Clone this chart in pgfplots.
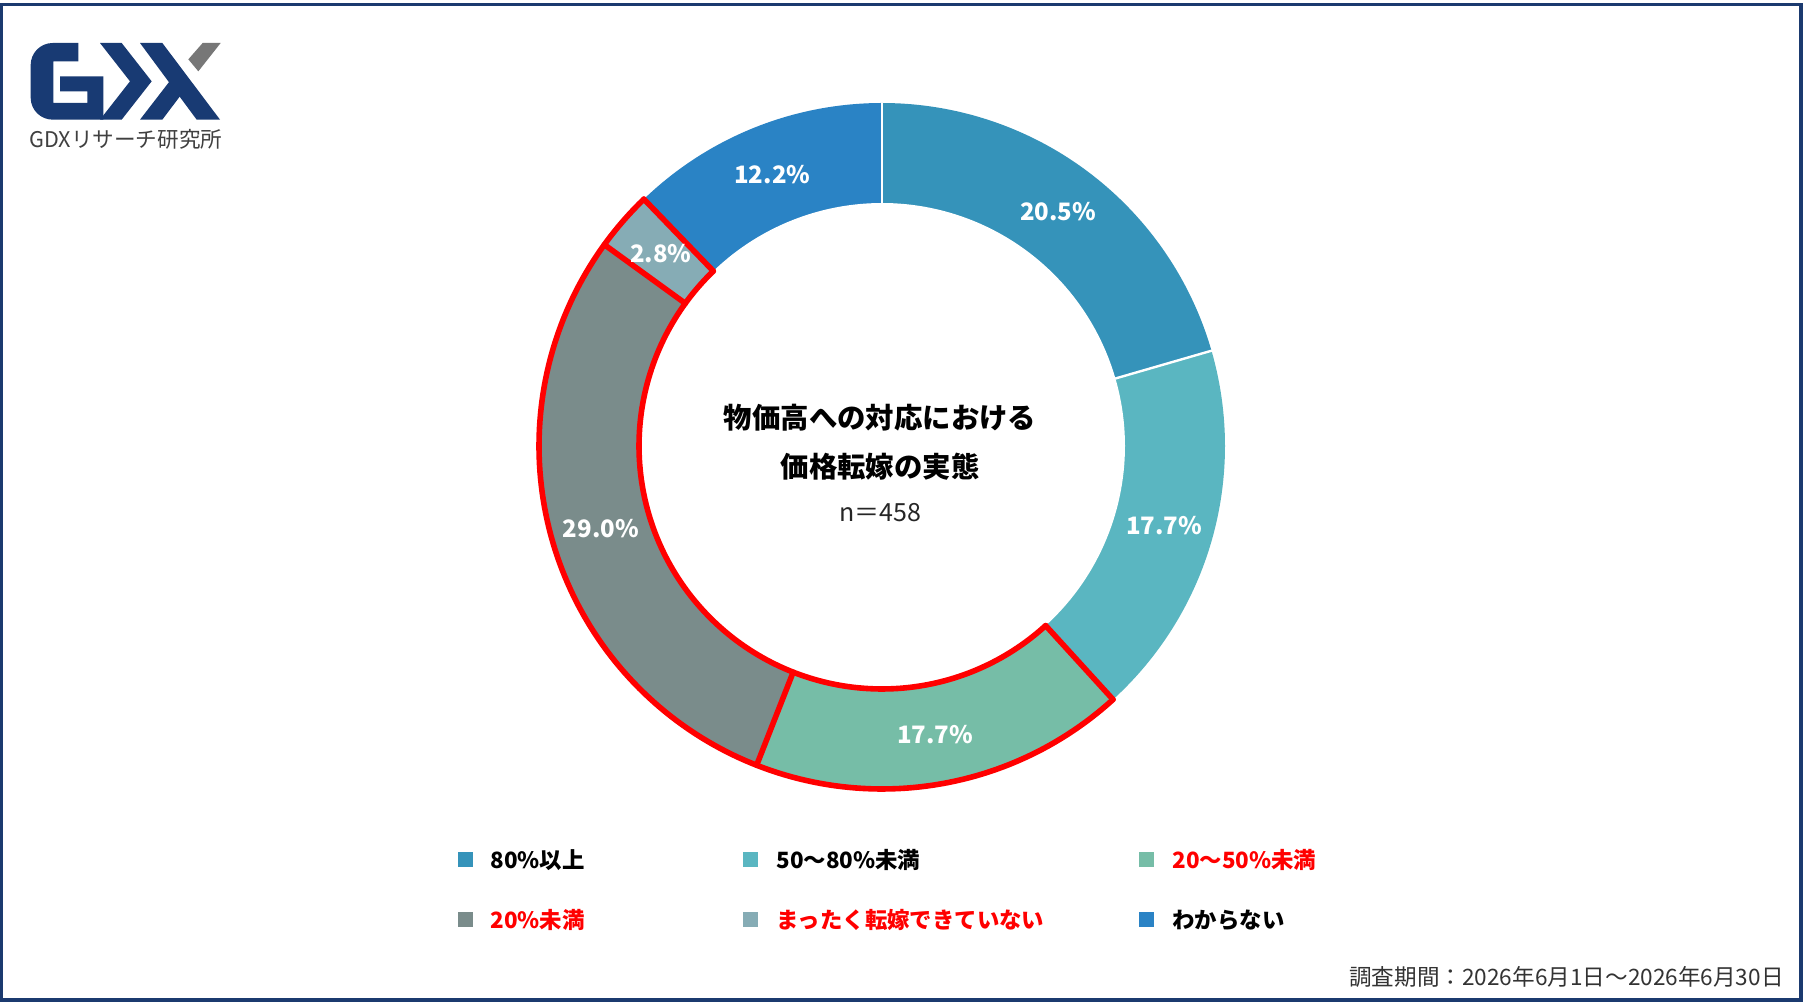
\documentclass[border=0pt]{standalone}
\usepackage{pgfplots}
\pgfplotsset{compat=1.18}
\usepackage{pgfplotstable}
\usepackage{fontspec}
\setmainfont{Noto Sans CJK JP}

\definecolor{cA}{HTML}{3593BA}
\definecolor{cB}{HTML}{5AB6C1}
\definecolor{cC}{HTML}{76BDA7}
\definecolor{cD}{HTML}{7A8C8B}
\definecolor{cE}{HTML}{86ACB5}
\definecolor{cF}{HTML}{2A83C5}
\definecolor{hl}{HTML}{FF0000}
\definecolor{frame}{HTML}{1B3A6F}
\definecolor{logonavy}{HTML}{183A73}
\definecolor{logogray}{HTML}{777777}
\definecolor{foot}{HTML}{333333}

% share of respondents (%), clockwise from 12 o'clock
\pgfplotstableread{
value
20.5
17.7
17.7
29.0
2.8
12.2
}\donutdata

\def\total{0}
\foreach \i in {0,...,5}{%
  \pgfplotstablegetelem{\i}{value}\of\donutdata
  \pgfmathsetmacro\tmpsum{\total+\pgfplotsretval}%
  \global\let\total\tmpsum
}
\def\cum{0}
\foreach \i/\n in {0/A,1/B,2/C,3/D,4/E,5/F}{%
  \pgfplotstablegetelem{\i}{value}\of\donutdata
  \let\vv\pgfplotsretval
  \pgfmathsetmacro\ss{90-360*(\cum/\total)}%
  \pgfmathsetmacro\newcum{\cum+\vv}%
  \pgfmathsetmacro\ee{90-360*(\newcum/\total)}%
  \pgfmathsetmacro\mm{(\ss+\ee)/2}%
  \expandafter\xdef\csname dS\n\endcsname{\ss}%
  \expandafter\xdef\csname dE\n\endcsname{\ee}%
  \expandafter\xdef\csname dM\n\endcsname{\mm}%
  \global\let\cum\newcum
}

\newcommand\donutwedge[3]{%
  \addplot[fill=#1, draw=none, domain=#3:#2, samples=120] ({343*cos(x)},{343*sin(x)}) -- (axis cs:0,0) -- cycle;}
\newcommand\radial[3]{%
  \addplot[#1, line width=#2, line cap=round, domain=243:343, samples=2] ({x*cos(#3)},{x*sin(#3)});}
\newcommand\plab[2]{%
  \node[text=white, font=\bfseries\fontsize{12pt}{14pt}\selectfont] at (axis cs:{293*cos(#1)},{293*sin(#1)}) {#2};}

\begin{document}
\begin{tikzpicture}[x=0.5pt, y=0.5pt]
\useasboundingbox (0,0) rectangle (1805,1006);
\fill[white] (0,0) rectangle (1805,1006);
\draw[frame, line width=1.8pt] (1.5,6) rectangle (1801,1001.5);

% logo
\begin{scope}[shift={(0,1006)}, x=0.16667pt, y=-0.16667pt]
  \fill[logonavy] (235,129) [rounded corners=11pt] -- (92,129) -- (92,359) [sharp corners] -- (310,359) -- (310,229) -- (180,229) -- (180,274) -- (262,274) -- (262,309) -- (160,309) -- (160,184) -- (235,184) -- cycle;
  \fill[logonavy] (300,129) -- (365,129) -- (455,244) -- (365,359) -- (300,359) -- (390,244) -- cycle;
  \fill[logonavy] (420,129) -- (487,129) -- (660,359) -- (590,359) -- cycle;
  \fill[logonavy] (420,359) -- (487,359) -- (548,278) -- (515,236) -- cycle;
  \fill[logogray] (608,129) -- (662,129) -- (595,214) -- (565,178) -- cycle;
\end{scope}
\node[anchor=west, inner sep=0pt, text=black!75, font=\fontsize{10.8pt}{12pt}\selectfont] at (29,867) {GDXリサーチ研究所};

\begin{axis}[at={(882,560)}, anchor=center, x=0.5pt, y=0.5pt,
  xmin=-400, xmax=400, ymin=-400, ymax=400, hide axis, clip=false]
  \donutwedge{cA}{\dSA}{\dEA}
  \donutwedge{cB}{\dSB}{\dEB}
  \donutwedge{cC}{\dSC}{\dEC}
  \donutwedge{cD}{\dSD}{\dED}
  \donutwedge{cE}{\dSE}{\dEE}
  \donutwedge{cF}{\dSF}{\dEF}
  \addplot[fill=white, draw=none, domain=0:360, samples=240] ({243*cos(x)},{243*sin(x)}) -- cycle;
  % white separators
  \radial{white}{1.2pt}{\dSA}
  \radial{white}{1.2pt}{\dEA}
  \radial{white}{1.2pt}{\dEB}
  \radial{white}{1.2pt}{\dEE}
  % red highlight around C, D, E
  \addplot[hl, line width=2.8pt, line cap=round, domain=\dEE:\dSC, samples=150] ({343*cos(x)},{343*sin(x)});
  \addplot[hl, line width=2.8pt, line cap=round, domain=\dEE:\dSC, samples=150] ({243*cos(x)},{243*sin(x)});
  \radial{hl}{2.8pt}{\dSC}
  \radial{hl}{2.8pt}{\dEC}
  \radial{hl}{2.8pt}{\dED}
  \radial{hl}{2.8pt}{\dEE}
  % labels
  \plab{\dMA}{20.5\%}
  \plab{\dMB}{17.7\%}
  \plab{\dMC}{17.7\%}
  \plab{\dMD}{29.0\%}
  \plab{\dME}{2.8\%}
  \plab{\dMF}{12.2\%}
\end{axis}

% centre title
\node[font=\bfseries\fontsize{14.2pt}{16pt}\selectfont] at (880,588) {物価高への対応における};
\node[font=\bfseries\fontsize{14.2pt}{16pt}\selectfont] at (880,539) {価格転嫁の実態};
\node[font=\fontsize{12.5pt}{14pt}\selectfont, text=black!85] at (880,493) {n＝458};

% legend
\tikzset{lt/.style={anchor=west, inner sep=0pt, font=\bfseries\fontsize{11.2pt}{13pt}\selectfont}}
\fill[cA] (458,139) rectangle (473,154);
\node[lt] at (490,146) {80\%以上};
\fill[cB] (743,139) rectangle (758,154);
\node[lt] at (776,146) {50〜80\%未満};
\fill[cC] (1139,139) rectangle (1154,154);
\node[lt, text=hl] at (1172,146) {20〜50\%未満};
\fill[cD] (458,79) rectangle (473,94);
\node[lt, text=hl] at (490,86) {20\%未満};
\fill[cE] (743,79) rectangle (758,94);
\node[lt, text=hl] at (776,86) {まったく転嫁できていない};
\fill[cF] (1139,79) rectangle (1154,94);
\node[lt] at (1172,86) {わからない};

% footer
\node[anchor=east, inner sep=0pt, text=foot, font=\fontsize{11.3pt}{13pt}\selectfont] at (1784,29) {調査期間：2026年6月1日〜2026年6月30日};
\end{tikzpicture}
\end{document}
